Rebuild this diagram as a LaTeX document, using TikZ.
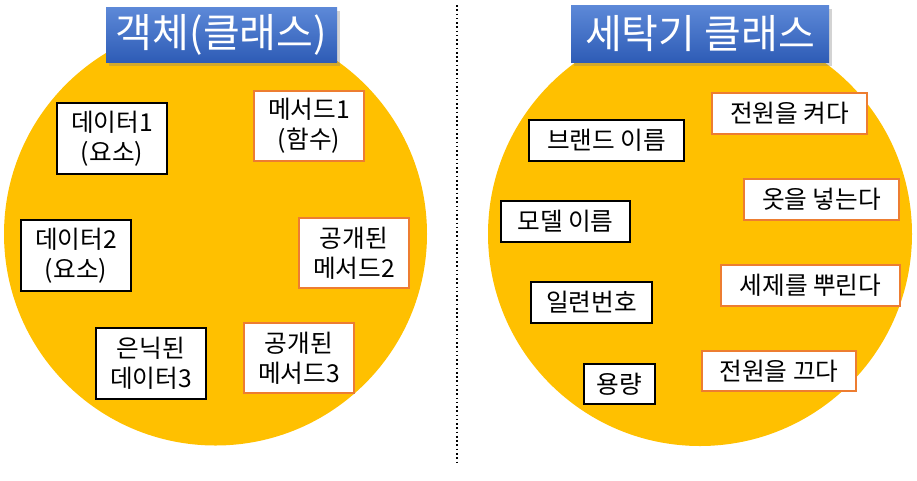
\documentclass[tikz,border=0pt]{standalone}
\usepackage{fontspec}
\setmainfont{Noto Sans CJK KR}
\definecolor{gold1}{RGB}{255, 192, 0}
\definecolor{orange1}{RGB}{237, 125, 49}
\definecolor{titletop}{RGB}{93, 137, 216}
\definecolor{titlebot}{RGB}{46, 92, 182}
\usetikzlibrary{shadows}

\begin{document}
\begin{tikzpicture}[
  x=0.75pt, y=-0.75pt,
  field/.style={draw=black, line width=1.5pt, fill=white, align=center, inner sep=0pt, font=\fontsize{18.5}{22.5}\selectfont},
  method/.style={field, draw=orange1},
  title/.style={top color=titletop, bottom color=titlebot, draw=none, text=white, inner sep=0pt,
    font=\fontsize{30}{34}\selectfont, drop shadow={shadow xshift=2pt, shadow yshift=-3pt, opacity=0.35}}
]
  \useasboundingbox (0,0) rectangle (917,480);
  % two classes
  \fill[gold1] (215.5,234) circle[radius=211.5];
  \fill[gold1] (700,234) circle[radius=212];
  \draw[dotted, line width=1.2pt] (457,5) -- (457,463);

  % object (class)
  \node[title, minimum width=231*0.75pt, minimum height=55*0.75pt] (objtitle) at (221.5,34.5) {객체(클래스)};
  \node[field, minimum width=110*0.75pt, minimum height=71*0.75pt] (dat1) at (112,138.5) {데이터1\\(요소)};
  \node[method, minimum width=110*0.75pt, minimum height=70*0.75pt] (met1) at (309,126) {메서드1\\(함수)};
  \node[field, minimum width=110*0.75pt, minimum height=71*0.75pt] (dat2) at (76,255.5) {데이터2\\(요소)};
  \node[method, minimum width=110*0.75pt, minimum height=70*0.75pt] (met2) at (354,253) {공개된\\메서드2};
  \node[field, minimum width=110*0.75pt, minimum height=71*0.75pt] (dat3) at (151,363.5) {은닉된\\데이터3};
  \node[method, minimum width=110*0.75pt, minimum height=70*0.75pt] (met3) at (299,358) {공개된\\메서드3};

  % washer class
  \node[title, minimum width=258*0.75pt, minimum height=57*0.75pt] (wshtitle) at (700,33.5) {세탁기 클래스};
  \node[field, minimum width=155*0.75pt, minimum height=41*0.75pt] (brand) at (606.5,140.5) {브랜드 이름};
  \node[field, minimum width=129*0.75pt, minimum height=41*0.75pt] (model) at (565.5,221.5) {모델 이름};
  \node[field, minimum width=121*0.75pt, minimum height=41*0.75pt] (serial) at (591.5,302.5) {일련번호};
  \node[field, minimum width=71*0.75pt, minimum height=40*0.75pt] (capac) at (619.5,384) {용량};
  \node[method, minimum width=155*0.75pt, minimum height=41*0.75pt] (pwron) at (789.5,113.5) {전원을 켜다};
  \node[method, minimum width=155*0.75pt, minimum height=41*0.75pt] (clothes) at (821.5,199.5) {옷을 넣는다};
  \node[method, minimum width=179*0.75pt, minimum height=41*0.75pt] (deterg) at (810.5,285.5) {세제를 뿌린다};
  \node[method, minimum width=154*0.75pt, minimum height=40*0.75pt] (pwroff) at (779,371) {전원을 끄다};
\end{tikzpicture}
\end{document}
